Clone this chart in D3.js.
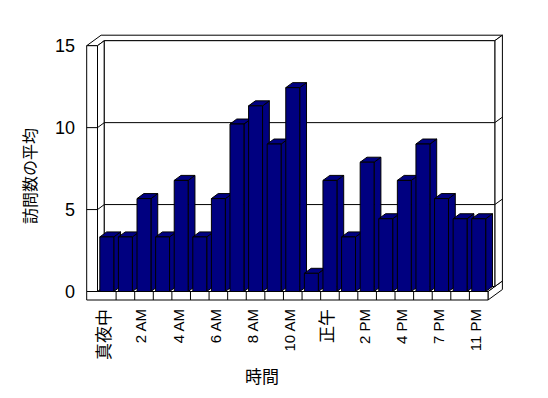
<!DOCTYPE html>
<html lang="ja">
<head>
  <meta charset="utf-8">
  <title>訪問数の平均</title>
  <script src="https://d3js.org/d3.v7.min.js"></script>
  <style>
    body {
      margin: 0;
      background: #fff;
      font-family: "Liberation Sans", Arial, "Noto Sans CJK JP", sans-serif;
    }
    svg {
      display: block;
    }
  </style>
</head>
<body>
  <svg width="548" height="398"></svg>

  <script>
  // data
  const hours = ["真夜中", "1 AM", "2 AM", "3 AM", "4 AM", "5 AM", "6 AM", "7 AM", "8 AM", "9 AM",
                 "10 AM", "11 AM", "正午", "1 PM", "2 PM", "3 PM", "4 PM", "6 PM", "7 PM", "9 PM", "11 PM"];
  const visits = [3.33, 3.33, 5.67, 3.33, 6.78, 3.33, 5.67, 10.22, 11.33, 9.0, 12.44,
                  1.11, 6.78, 3.33, 7.89, 4.44, 6.78, 9.0, 5.67, 4.44, 4.44];
  const yTicks = [0, 5, 10, 15];
  const gridValues = [5, 10];

  const svg = d3.select("svg");
  const ink = "#000";
  const navy = "#000080";

  // front plane scales (z = 0)
  const x = d3.scaleBand().domain(hours).range([97.5, 488]).paddingInner(0.25).paddingOuter(0.125);
  const y = d3.scaleLinear().domain([0, 15]).range([291.5, 45.7]);

  // oblique depth: plot depth and back wall thickness
  const D = [6.8, -5];
  const T = [7.6, -5.5];
  const x0 = x.range()[0], x1 = x.range()[1];
  const wallL = 86.7;
  const floorBottom = 300;

  const line = pts => "M" + pts.map(p => p.join(",")).join("L") + "Z";
  const shape = (pts, fill) => svg.append("path")
    .attr("d", line(pts))
    .attr("fill", fill)
    .attr("stroke", ink)
    .attr("stroke-width", 1)
    .attr("stroke-linejoin", "miter");
  const seg = (a, b) => svg.append("line")
    .attr("x1", a[0]).attr("y1", a[1]).attr("x2", b[0]).attr("y2", b[1])
    .attr("stroke", ink).attr("stroke-width", 1);

  const yTop = y(15), yZero = y(0);
  const bx0 = x0 + D[0], bx1 = x1 + D[0];     // back wall face, left/right
  const by = v => y(v) + D[1];                 // back wall face height

  // floor slab: right side, front face, top
  shape([[x1, yZero], [x1, floorBottom], [x1 + D[0] + T[0], floorBottom + D[1] + T[1]],
         [bx1 + T[0], by(0) + T[1]], [bx1, by(0)]], "#fff");
  shape([[wallL, yZero], [x1, yZero], [x1, floorBottom], [wallL, floorBottom]], "#fff");
  shape([[x0, yZero], [x1, yZero], [bx1, by(0)], [bx0, by(0)]], "#fff");
  hours.slice(1).forEach(h => {
    const tx = x(h) - x.step() * x.paddingInner() / 2;
    seg([tx, yZero], [tx, floorBottom]);
  });

  // top of the walls
  shape([[wallL, yTop], [x0, yTop], [bx0, by(15)], [bx1, by(15)],
         [bx1 + T[0], by(15) + T[1]], [wallL + D[0] + T[0], yTop + D[1] + T[1]]], "#fff");

  // right edge of the back wall
  shape([[bx1, by(15)], [bx1 + T[0], by(15) + T[1]], [bx1 + T[0], by(0) + T[1]], [bx1, by(0)]], "#fff");
  gridValues.forEach(v => seg([bx1, by(v)], [bx1 + T[0], by(v) + T[1]]));

  // left wall: front face and inner side
  shape([[wallL, yTop], [x0, yTop], [x0, yZero], [wallL, yZero]], "#fff");
  shape([[x0, yTop], [bx0, by(15)], [bx0, by(0)], [x0, yZero]], "#fff");
  gridValues.forEach(v => {
    seg([wallL, y(v)], [x0, y(v)]);
    seg([x0, y(v)], [bx0, by(v)]);
  });

  // back wall with grid lines
  shape([[bx0, by(15)], [bx1, by(15)], [bx1, by(0)], [bx0, by(0)]], "#fff");
  gridValues.forEach(v => seg([bx0, by(v)], [bx1, by(v)]));

  // bars, drawn left to right so each front covers the previous side
  hours.forEach((h, i) => {
    const l = x(h), r = l + x.bandwidth();
    const t = y(visits[i]), b = yZero;
    const g = svg.append("g");
    const face = (pts) => g.append("path").attr("d", line(pts))
      .attr("fill", navy).attr("stroke", ink).attr("stroke-width", 1);
    face([[r, t], [r + D[0], t + D[1]], [r + D[0], b + D[1]], [r, b]]);
    face([[l, t], [l + D[0], t + D[1]], [r + D[0], t + D[1]], [r, t]]);
    face([[l, t], [r, t], [r, b], [l, b]]);
  });

  // y tick labels
  svg.selectAll(".ytick")
    .data(yTicks)
    .enter().append("text")
    .attr("class", "ytick")
    .attr("x", 75)
    .attr("y", d => y(d))
    .attr("dy", "0.36em")
    .attr("text-anchor", "end")
    .attr("font-size", 18)
    .text(d => d);

  // x tick labels, every other category
  svg.selectAll(".xtick")
    .data(hours.filter((h, i) => i % 2 === 0))
    .enter().append("text")
    .attr("class", "xtick")
    .attr("transform", d => `translate(${x(d) + x.bandwidth() / 2 - 3},309) rotate(-90)`)
    .attr("dy", "0.36em")
    .attr("text-anchor", "end")
    .attr("font-size", d => /[^\x00-\x7f]/.test(d) ? 17 : 15)
    .text(d => d);

  // axis titles
  svg.append("text")
    .attr("transform", "translate(30,176) rotate(-90)")
    .attr("dy", "0.36em")
    .attr("text-anchor", "middle")
    .attr("font-size", 16)
    .text("訪問数の平均");

  svg.append("text")
    .attr("x", 262)
    .attr("y", 377)
    .attr("dy", "0.36em")
    .attr("text-anchor", "middle")
    .attr("font-size", 17)
    .text("時間");
  </script>
</body>
</html>
